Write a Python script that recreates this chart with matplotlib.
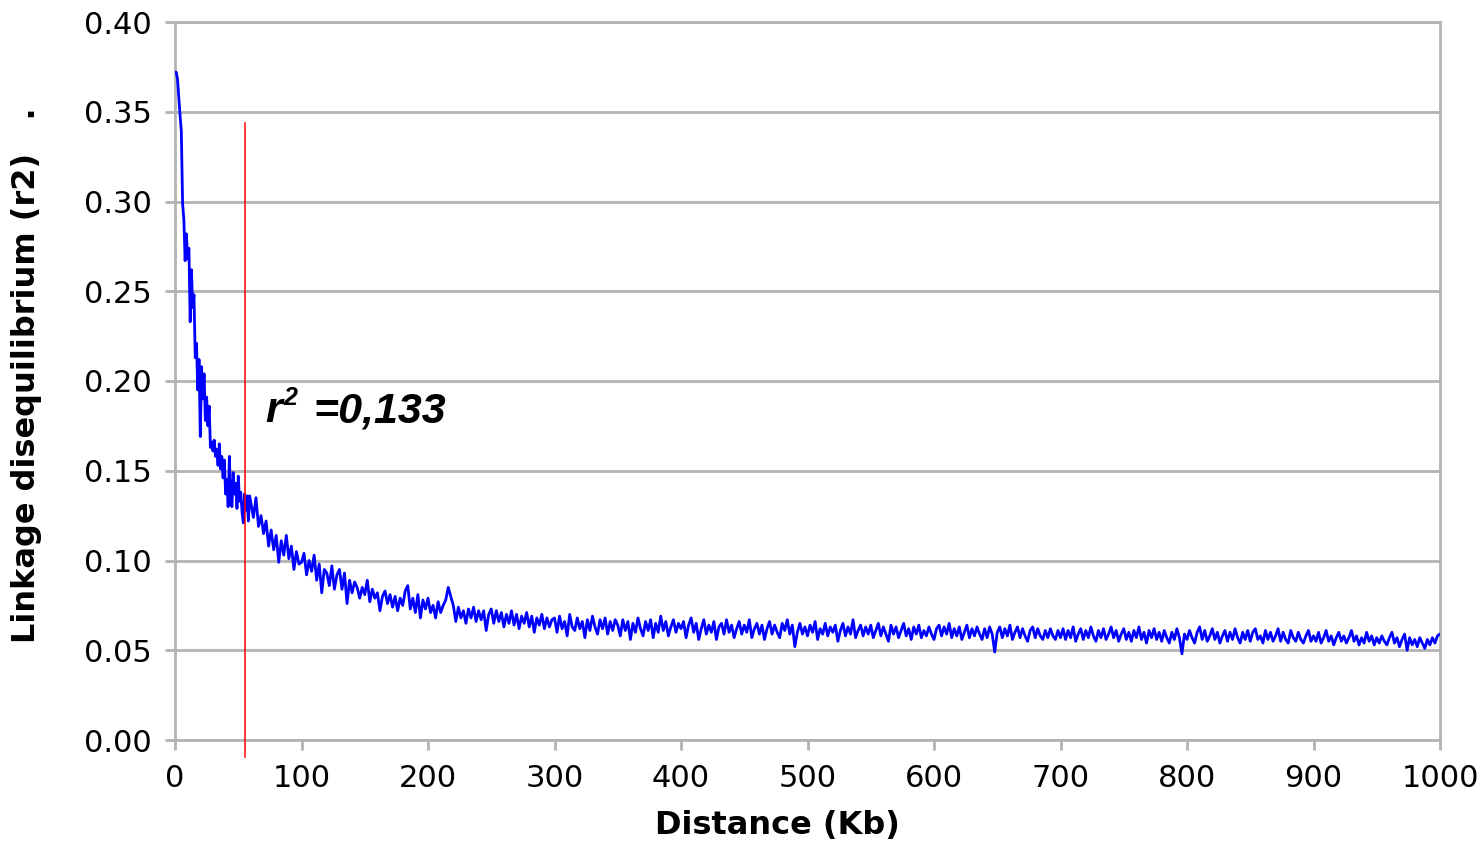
import numpy as np
import matplotlib
matplotlib.use("Agg")
import matplotlib.pyplot as plt
from matplotlib.ticker import FormatStrFormatter, MultipleLocator

# ---- data (r2 in thousandths) ----
dist_near = np.arange(0, 60, 1)
r2_near = [372, 372, 368, 358, 348, 339, 299, 290, 267, 282,
           268, 274, 233, 262, 241, 248, 213, 221, 195, 212,
           169, 208, 190, 204, 178, 191, 175, 186, 163, 166,
           161, 167, 158, 162, 153, 165, 151, 158, 146, 156,
           137, 145, 130, 158, 133, 130, 149, 137, 143, 129,
           147, 133, 138, 127, 121, 137, 128, 136, 122, 136]

dist_mid = np.arange(60, 300, 2)
r2_mid = [132, 124, 135, 119, 125, 115, 122, 108, 117, 106,
          114, 99, 111, 103, 114, 101, 108, 95, 105, 98,
          99, 104, 92, 100, 94, 103, 89, 98, 82, 95,
          93, 86, 97, 84, 92, 95, 84, 93, 76, 89,
          82, 88, 85, 79, 85, 81, 89, 77, 84, 79,
          82, 72, 80, 83, 76, 81, 74, 80, 72, 79,
          75, 83, 86, 73, 79, 71, 81, 68, 78, 73,
          79, 71, 75, 68, 77, 71, 75, 78, 85, 80,
          75, 66, 74, 68, 72, 65, 73, 68, 74, 66,
          72, 67, 72, 61, 70, 73, 65, 72, 66, 71,
          63, 70, 65, 72, 64, 70, 62, 69, 65, 71,
          63, 69, 60, 68, 64, 70, 62, 68, 63, 67]

dist_far = np.arange(300, 1001, 2)
r2_far = [68, 60, 69, 62, 66, 58, 70, 63, 61, 68, 62, 66, 57, 67, 61, 69, 63, 59, 67, 62, 68, 59, 66, 61, 67,
          64, 58, 67, 61, 66, 56, 65, 60, 68, 62, 58, 66, 61, 67, 57, 65, 60, 69, 61, 66, 58, 63, 67, 60, 65,
          62, 66, 57, 64, 68, 60, 65, 56, 62, 67, 59, 64, 60, 66, 56, 63, 65, 59, 67, 60, 64, 57, 62, 66, 59,
          64, 60, 67, 57, 62, 65, 59, 64, 56, 62, 66, 59, 64, 60, 57, 65, 61, 67, 59, 64, 52, 60, 65, 59, 63,
          58, 64, 60, 66, 56, 62, 59, 65, 58, 63, 60, 64, 55, 61, 65, 58, 63, 59, 67, 57, 61, 64, 58, 63, 59,
          64, 57, 61, 65, 58, 63, 59, 55, 64, 59, 63, 57, 61, 65, 58, 62, 56, 63, 59, 64, 57, 61, 58, 63, 59,
          56, 62, 64, 58, 63, 59, 65, 57, 62, 58, 63, 56, 60, 64, 57, 62, 58, 63, 59, 56, 62, 57, 63, 59, 49,
          60, 63, 57, 62, 58, 64, 56, 60, 63, 57, 62, 58, 55, 61, 63, 57, 62, 58, 56, 61, 57, 62, 58, 56, 61,
          57, 62, 56, 61, 57, 63, 55, 59, 62, 56, 61, 57, 63, 58, 55, 61, 57, 62, 56, 59, 63, 57, 61, 55, 59,
          62, 56, 60, 55, 61, 57, 63, 56, 60, 54, 61, 57, 62, 56, 60, 55, 61, 57, 54, 60, 56, 62, 57, 48, 59,
          56, 61, 57, 54, 60, 63, 56, 61, 55, 58, 62, 56, 60, 54, 58, 61, 55, 60, 56, 62, 57, 54, 60, 56, 61,
          55, 60, 62, 56, 58, 54, 61, 56, 60, 55, 58, 62, 55, 60, 56, 54, 61, 57, 55, 60, 56, 54, 58, 61, 55,
          58, 55, 60, 54, 57, 61, 55, 58, 53, 57, 60, 55, 58, 54, 57, 61, 55, 58, 53, 57, 54, 60, 55, 58, 53,
          57, 54, 58, 55, 53, 57, 60, 54, 57, 52, 56, 59, 50, 57, 53, 56, 52, 57, 54, 51, 56, 53, 57, 54, 58,
          59]

r2_cutoff = 0.133
cutoff_dist = 55.3
x_ticks = np.arange(0, 1001, 100)

# ---- figure ----
grid_col = "#b3b3b3"
fig = plt.figure(figsize=(14.82, 8.42), dpi=100)
ax = fig.add_axes([175 / 1482, 102 / 842, 1265 / 1482, 718 / 842])

dist = np.concatenate([dist_near, dist_mid, dist_far])
r2 = np.concatenate([r2_near, r2_mid, r2_far]) / 1000.0
ax.plot(dist, r2, color="#0000ff", lw=2.0, zorder=3)

# red cut-off line (drawn past the x axis like the original)
ax.plot([cutoff_dist, cutoff_dist], [-0.0095, 0.344], color="#ff0000", lw=1.1,
        clip_on=False, zorder=4)

ax.set_xlim(0, 1000)
ax.set_ylim(0, 0.40)
ax.set_xticks(x_ticks)
ax.yaxis.set_major_locator(MultipleLocator(0.05))
ax.yaxis.set_major_formatter(FormatStrFormatter("%.2f"))
ax.grid(axis="y", color=grid_col, lw=2, zorder=0)
ax.set_axisbelow(True)
for side in ["left", "right", "bottom", "top"]:
    ax.spines[side].set_color(grid_col)
    ax.spines[side].set_linewidth(2)
ax.tick_params(axis="both", direction="out", length=7, width=2, color=grid_col,
               labelsize=22, labelcolor="black", pad=10)

ax.set_xlabel("Distance (Kb)", fontsize=23, fontweight="bold")
ax.xaxis.set_label_coords(0.476, -0.097)
ax.set_ylabel("Linkage disequilibrium (r2)   .", fontsize=23, fontweight="bold")
ax.yaxis.set_label_coords(-0.105, 0.508)

# r2 annotation
lab_font = dict(family=["Liberation Sans Narrow", "Liberation Sans"], fontweight="bold",
                fontstyle="italic", color="black")
ax.text(71.1, 0.177, "r", fontsize=31, **lab_font)
ax.text(85.4, 0.1866, "2", fontsize=18, **lab_font)
ax.text(109.1, 0.177, "=0,133", fontsize=31, **lab_font)

fig.savefig("out.png", dpi=100)
